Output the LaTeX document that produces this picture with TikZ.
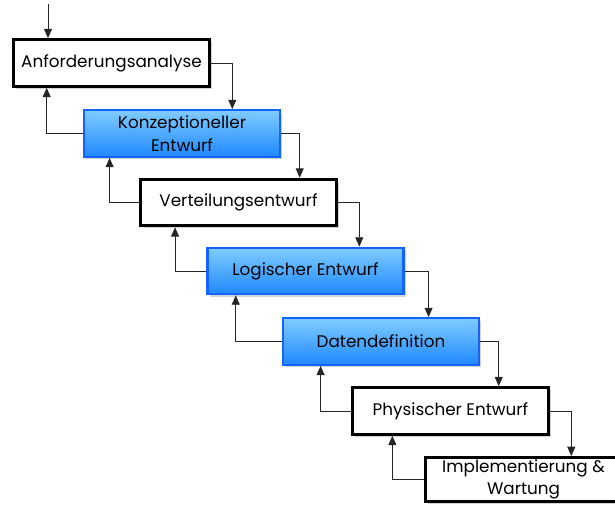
\documentclass[tikz,border=0pt]{standalone}
\usepackage{fontspec}
\setmainfont{Poppins}
\usetikzlibrary{arrows.meta,shadows}
\definecolor{bluetop}{HTML}{80CCFF}
\definecolor{bluebot}{HTML}{1E88FF}
\definecolor{blueline}{HTML}{1462FF}
\begin{document}
\begin{tikzpicture}[x=0.75pt, y=-0.75pt,
  phase/.style = {draw, line width=2.2pt, fill=white, minimum width=147pt, minimum height=35pt,
    inner sep=1pt, align=center, font=\fontsize{12.6}{17}\selectfont,
    drop shadow={opacity=0.35, shadow xshift=1.5pt, shadow yshift=-2pt}},
  bluephase/.style = {phase, draw=blueline, line width=1.6pt, top color=bluetop, bottom color=bluebot},
  arr/.style = {-{Triangle[length=7pt, width=6pt]}, line width=0.7pt, draw=black!85}]
  \useasboundingbox (0,0) rectangle (615,506);
  \clip (0,0) rectangle (615,506);
  % phases
  \node[phase] (anf) at (111.5,63) {Anforderungsanalyse};
  \node[bluephase] (konz) at (182,133.5) {Konzeptioneller\\Entwurf};
  \node[phase] (vert) at (238.5,202.5) {Verteilungsentwurf};
  \node[bluephase] (logi) at (305.5,271) {Logischer Entwurf};
  \node[bluephase] (daten) at (381,341.5) {Datendefinition};
  \node[phase] (phys) at (450.5,411) {Physischer Entwurf};
  \node[phase, minimum height=33pt] (impl) at (523.5,479.5) {Implementierung \&\\Wartung};
  % start
  \coordinate (start) at (48,4);
  \draw[arr] (start) -- (start |- anf.north);
  % downwards
  \draw[arr] (anf.east) -| ([xshift=16pt]anf.east |- konz.north);
  \draw[arr] (konz.east) -| ([xshift=14pt]konz.east |- vert.north);
  \draw[arr] (vert.east) -| ([xshift=16pt]vert.east |- logi.north);
  \draw[arr] (logi.east) -| ([xshift=18pt]logi.east |- daten.north);
  \draw[arr] (daten.east) -| ([xshift=14pt]daten.east |- phys.north);
  \draw[arr] (phys.east) -| ([xshift=16pt]phys.east |- impl.north);
  % back
  \draw[arr] (konz.west) -| ([xshift=26pt]anf.south west);
  \draw[arr] (vert.west) -| ([xshift=20pt]konz.south west);
  \draw[arr] (logi.west) -| ([xshift=27pt]vert.south west);
  \draw[arr] (daten.west) -| ([xshift=22pt]logi.south west);
  \draw[arr] (phys.west) -| ([xshift=29pt]daten.south west);
  \draw[arr] (impl.west) -| ([xshift=31pt]phys.south west);
\end{tikzpicture}
\end{document}
